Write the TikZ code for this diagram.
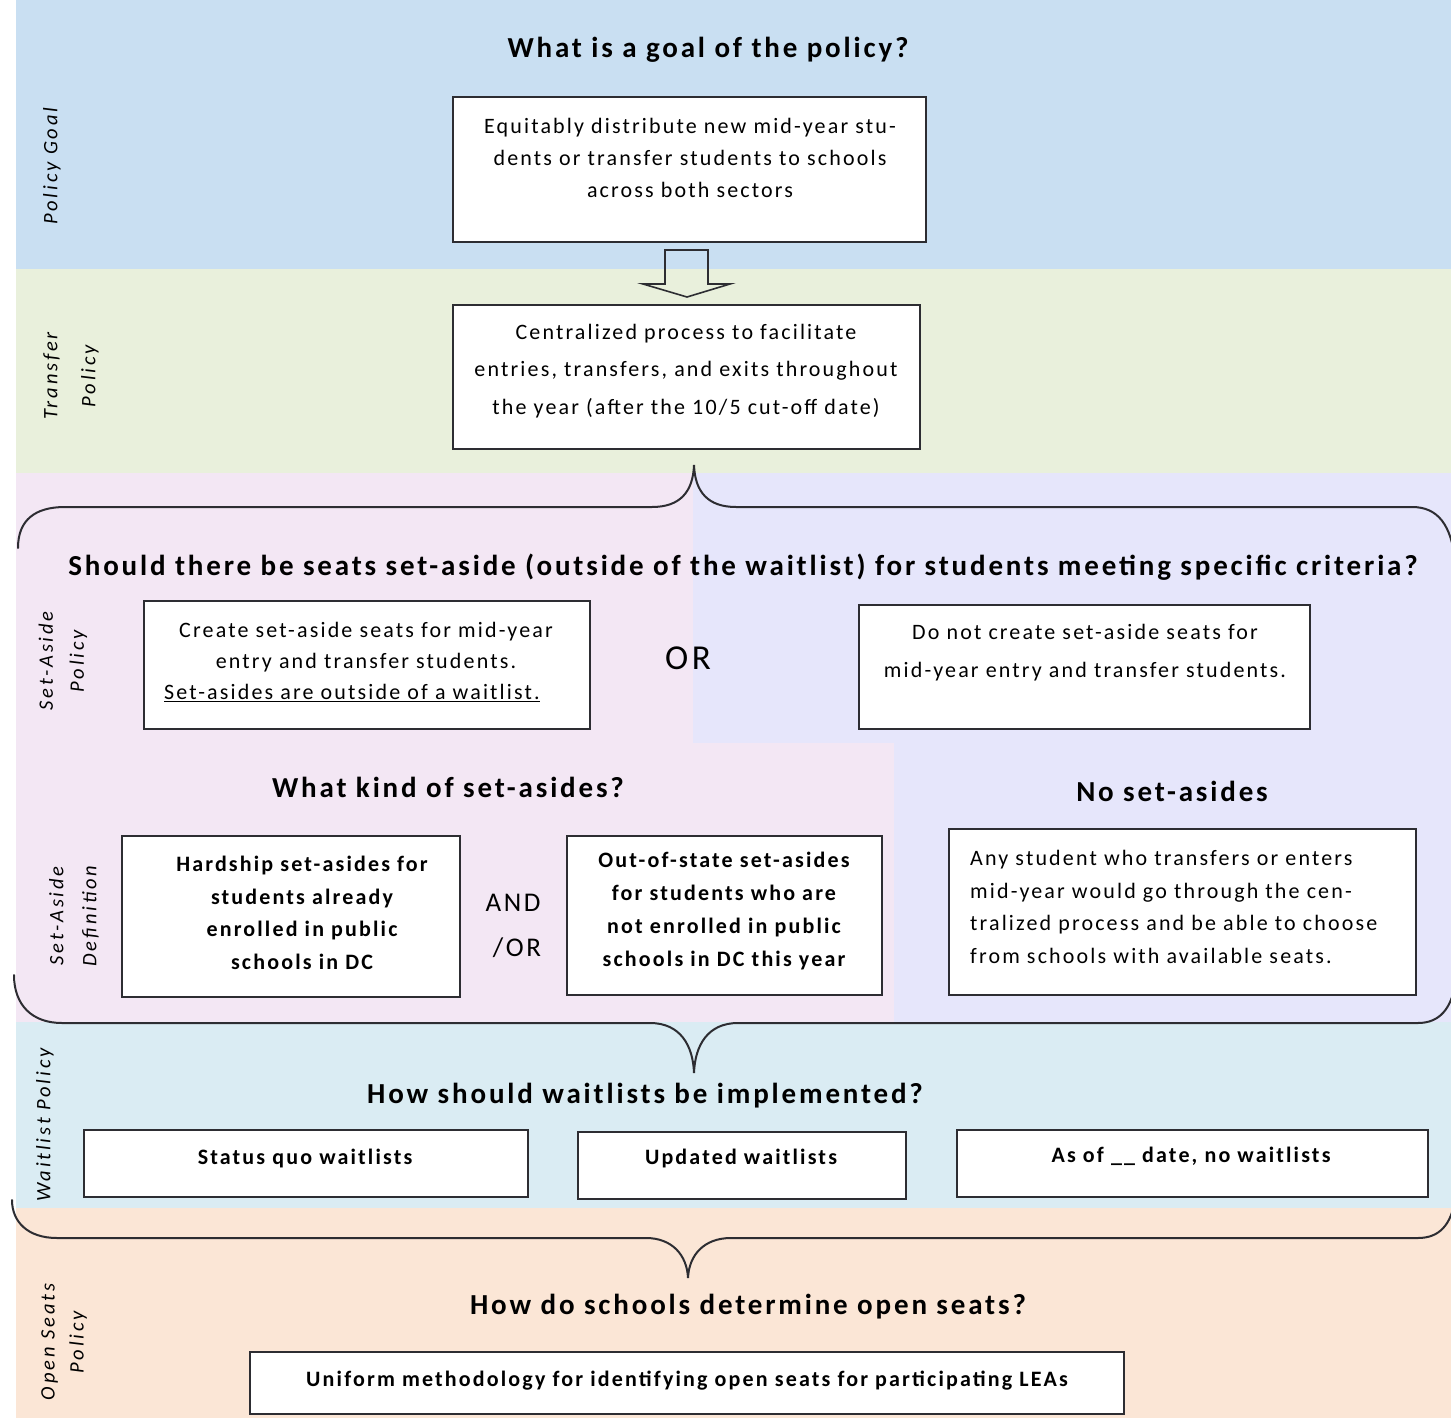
\documentclass[tikz,border=0pt]{standalone}
\usepackage{fontspec}
\setmainfont{Carlito}[LetterSpace=9.8]
\newfontfamily\lblfont{Carlito}[LetterSpace=14]
\usetikzlibrary{calc}
\definecolor{cBlue}{RGB}{201,223,242}
\definecolor{cGreen}{RGB}{233,240,220}
\definecolor{cPink}{RGB}{243,231,244}
\definecolor{cLav}{RGB}{230,230,251}
\definecolor{cWait}{RGB}{218,236,243}
\definecolor{cPeach}{RGB}{251,230,214}
\definecolor{cLine}{RGB}{45,45,50}
\begin{document}
\begin{tikzpicture}[x=1pt,y=-1pt,
  box/.style={draw=cLine, line width=1.6pt, fill=white, inner sep=0pt},
  body/.style={align=center, inner sep=0pt, font=\fontsize{22}{32}\selectfont},
  bbody/.style={align=center, inner sep=0pt, font=\bfseries\fontsize{22}{32.7}\selectfont},
  ttl/.style={inner sep=0pt, font=\bfseries\fontsize{29}{34}\selectfont},
  lbl/.style={rotate=90, align=center, inner sep=0pt, font=\lblfont\itshape\fontsize{20.5}{34}\selectfont},
  bracestyle/.style={draw=cLine, line width=2pt, line cap=round}]
\useasboundingbox (0,0) rectangle (1451,1418);
% bands
\fill[white] (0,0) rectangle (1451,1418);
\fill[cBlue] (16,0) rectangle (1451,269);
\fill[cGreen] (16,269) rectangle (1451,473);
\fill[cPink] (16,473) rectangle (693,743);
\fill[cLav] (693,473) rectangle (1451,743);
\fill[cPink] (16,743) rectangle (894,1022);
\fill[cLav] (894,743) rectangle (1451,1022);
\fill[cWait] (16,1022) rectangle (1451,1208);
\fill[cPeach] (16,1208) rectangle (1451,1418);

% side labels
\node[lbl] (lgoal) at (52,166) {Policy Goal};
\node[lbl, font=\lblfont\itshape\fontsize{20.5}{38}\selectfont] (ltransfer) at (71,376) {Transfer\\Policy};
\node[lbl, font=\lblfont\itshape\fontsize{20.5}{31}\selectfont] (lsetpol) at (63,661) {Set-Aside\\Policy};
\node[lbl, font=\lblfont\itshape\fontsize{20.5}{33}\selectfont] (lsetdef) at (74,916) {Set-Aside\\Definition};
\node[lbl] (lwait) at (45,1125) {Waitlist Policy};
\node[lbl, font=\lblfont\itshape\fontsize{20.5}{29}\selectfont] (lopen) at (64,1342) {Open Seats\\Policy};

% titles
\node[ttl] (q1) at (708,50) {What is a goal of the policy?};
\node[ttl] (q2) at (743,567) {Should there be seats set-aside (outside of the waitlist) for students meeting specific criteria?};
\node[ttl] (q3) at (448,787) {What kind of set-asides?};
\node[ttl] (q3b) at (1172,791) {No set-asides};
\node[ttl] (q4) at (645,1096) {How should waitlists be implemented?};
\node[ttl] (q5) at (748,1307) {How do schools determine open seats?};

% boxes
\node[box, minimum width=473, minimum height=145] (b1) at (689.5,169.5) {};
\node[box, minimum width=467, minimum height=144] (b2) at (686.5,377) {};
\node[box, minimum width=446, minimum height=128] (b3) at (367,665) {};
\node[box, minimum width=451, minimum height=124] (b4) at (1084.5,667) {};
\node[box, minimum width=338, minimum height=161] (b5) at (291,916.5) {};
\node[box, minimum width=315, minimum height=159] (b6) at (724.5,915.5) {};
\node[box, minimum width=467, minimum height=166] (b7) at (1182.5,912) {};
\node[box, minimum width=444, minimum height=67] (b8) at (306,1163.5) {};
\node[box, minimum width=328, minimum height=67] (b9) at (742,1165.5) {};
\node[box, minimum width=471, minimum height=67] (b10) at (1192.5,1163.5) {};
\node[box, minimum width=874, minimum height=62] (b11) at (687,1383) {};

% box texts
\node[body] (t1) at (690,158) {Equitably distribute new mid-year stu-\\dents or transfer students to schools\\across both sectors};
\node[body, font=\fontsize{22}{37.5}\selectfont] (t2) at (686,371) {Centralized process to facilitate\\entries, transfers, and exits throughout\\the year (after the 10/5 cut-off date)};
\node[body, font=\fontsize{22}{31}\selectfont] (t3) at (366,662) {Create set-aside seats for mid-year\\entry and transfer students.\\\underline{Set-asides are outside of a waitlist.}\hspace*{28pt}};
\node[body, font=\fontsize{22}{38}\selectfont] (t4) at (1085,653) {Do not create set-aside seats for\\mid-year entry and transfer students.};
\node[bbody] (t5) at (302,913) {Hardship set-asides for\\students already\\enrolled in public\\schools in DC};
\node[bbody] (t6) at (724,911) {Out-of-state set-asides\\for students who are\\not enrolled in public\\schools in DC this year};
\node[body, align=left, anchor=west, font=\fontsize{22}{32.7}\selectfont] (t7) at (970,907) {Any student who transfers or enters\\mid-year would go through the cen-\\tralized process and be able to choose\\from schools with available seats.};
\node[bbody] (t8) at (305,1158) {Status quo waitlists};
\node[bbody] (t9) at (741,1158) {Updated waitlists};
\node[bbody] (t10) at (1191,1156) {As of \_\_ date, no waitlists};
\node[bbody] (t11) at (687,1381) {Uniform methodology for identifying open seats for participating LEAs};

% connectives
\node[inner sep=0pt, font=\fontsize{35}{35}\selectfont] (or1) at (688,658) {OR};
\node[inner sep=0pt, font=\fontsize{27}{27}\selectfont] (and1) at (513,903) {AND};
\node[inner sep=0pt, font=\fontsize{27}{27}\selectfont] (or2) at (517,948) {/OR};

% block arrow
\draw[draw=cLine, line width=1.6pt, line join=miter]
  (665,250) -- (708,250) -- (708,284) -- (730,284) -- (687,297) -- (643,284) -- (665,284) -- cycle;

% braces
\draw[bracestyle] (18,548) .. controls (18,520) and (35,507) .. (65,507) -- (652,507)
  .. controls (680,507) and (693,492) .. (694,465)
  .. controls (695,492) and (708,507) .. (736,507) -- (1412,507)
  .. controls (1438,507) and (1451,525) .. (1455,560);
\draw[bracestyle] (14,975) .. controls (14,1005) and (32,1023) .. (62,1023) -- (650,1023)
  .. controls (680,1023) and (693,1045) .. (694,1073)
  .. controls (695,1045) and (708,1023) .. (738,1023) -- (1418,1023)
  .. controls (1440,1023) and (1451,1008) .. (1455,985);
\draw[bracestyle] (12,1200) .. controls (12,1222) and (28,1238) .. (57,1238) -- (646,1238)
  .. controls (672,1238) and (687,1255) .. (688,1278)
  .. controls (689,1255) and (704,1238) .. (731,1238) -- (1418,1238)
  .. controls (1440,1238) and (1451,1224) .. (1455,1200);
\end{tikzpicture}
\end{document}
